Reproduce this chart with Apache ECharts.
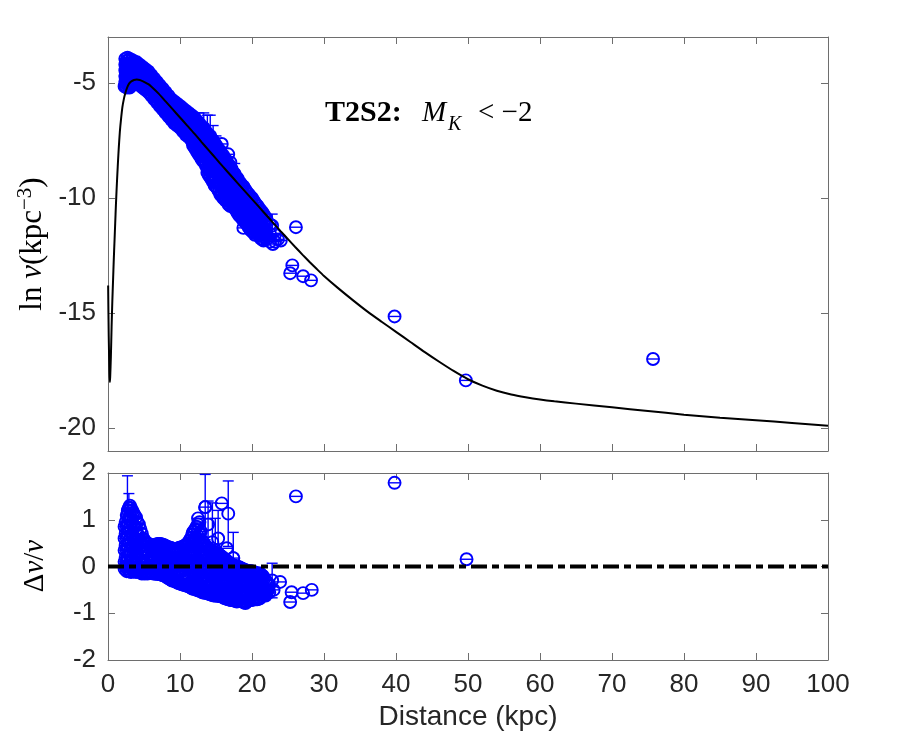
<!DOCTYPE html>
<html><head><meta charset="utf-8">
<script src="https://cdn.jsdelivr.net/npm/echarts@6/dist/echarts.min.js"></script>
<style>html,body{margin:0;padding:0;background:#fff}#c{width:900px;height:750px}</style>
</head><body><div id="c"></div>
<script>
// ---- model curve (ln nu vs distance)
const modelDist = [0.02,0.1,0.2,0.25,0.3,0.4,0.5,0.6,0.7,0.8,0.9,1.0,1.1,1.2,1.3,1.4,1.5,1.65,1.8,2.0,2.2,2.4,2.6,2.8,3.0,3.3,3.6,4.0,4.4,4.8,5.2,5.6,6,7,8,9,10,11,12,13,14,15,16,17,18,19,20,21,22,23,24,25,26,27,28,29,30,32,34,36,38,40,42,44,46,48,50,52,54,56,58,60,62,65,70,75,80,85,90,95,100];
const modelLnNu = [-13.8,-16.0,-17.6,-18.0,-17.8,-16.9,-15.6,-14.5,-13.6,-12.7,-11.9,-11.1,-10.3,-9.6,-8.95,-8.35,-7.8,-7.1,-6.6,-6.05,-5.7,-5.45,-5.25,-5.1,-5.0,-4.92,-4.87,-4.85,-4.87,-4.92,-4.98,-5.05,-5.15,-5.45,-5.8,-6.15,-6.5,-6.85,-7.2,-7.57,-7.93,-8.29,-8.65,-9.0,-9.35,-9.7,-10.05,-10.4,-10.75,-11.1,-11.45,-11.79,-12.13,-12.46,-12.78,-13.09,-13.39,-13.93,-14.44,-14.93,-15.38,-15.82,-16.26,-16.7,-17.12,-17.52,-17.88,-18.16,-18.38,-18.54,-18.66,-18.76,-18.84,-18.94,-19.1,-19.26,-19.42,-19.55,-19.66,-19.78,-19.9];

// ---- top panel: measured ln nu, grouped by distance column [distance, [ln nu ...]]
const topColumns = [
 [2.4,[-3.95,-4.2,-4.45,-4.7,-4.95,-5.1]],
 [2.55,[-4.05,-4.3,-4.55,-4.8,-5.0]],
 [2.7,[-3.9,-4.15,-4.35,-4.6,-4.85,-5.05]],
 [2.85,[-4.0,-4.25,-4.5,-4.75,-4.95,-5.15]],
 [3.0,[-3.95,-4.15,-4.4,-4.6,-4.8,-5.0,-5.2]],
 [3.15,[-4.05,-4.3,-4.5,-4.75,-4.95,-5.15]],
 [3.3,[-4.0,-4.2,-4.45,-4.65,-4.9,-5.1]],
 [3.45,[-4.1,-4.35,-4.55,-4.8,-5.0]],
 [3.6,[-4.05,-4.25,-4.5,-4.7,-4.95]],
 [3.8,[-4.15,-4.4,-4.65,-4.85,-5.05]],
 [4.0,[-4.1,-4.3,-4.55,-4.75,-5.0]],
 [4.2,[-4.25,-4.45,-4.7,-4.95]],
 [4.4,[-4.2,-4.4,-4.6,-4.85,-5.1]],
 [4.6,[-4.35,-4.55,-4.8,-5.05]],
 [4.8,[-4.3,-4.5,-4.7,-4.95,-5.2]],
 [5.0,[-4.45,-4.7,-4.95,-5.2]],
 [5.2,[-4.4,-4.6,-4.85,-5.05,-5.3]],
 [5.4,[-4.55,-4.8,-5.05,-5.25]],
 [5.6,[-4.5,-4.7,-4.95,-5.15,-5.4]],
 [5.8,[-4.7,-4.9,-5.15,-5.45]],
 [6.0,[-4.65,-4.85,-5.05,-5.3,-5.55]],
 [6.2,[-4.85,-5.05,-5.3,-5.55]],
 [6.4,[-4.8,-5.0,-5.2,-5.45,-5.7]],
 [6.6,[-5.0,-5.2,-5.45,-5.7]],
 [6.8,[-4.95,-5.15,-5.35,-5.6,-5.85]],
 [7.0,[-5.15,-5.35,-5.6,-5.85]],
 [7.2,[-5.1,-5.3,-5.5,-5.75,-6.0]],
 [7.4,[-5.3,-5.5,-5.75,-6.05]],
 [7.6,[-5.25,-5.45,-5.65,-5.9,-6.15]],
 [7.8,[-5.45,-5.65,-5.9,-6.2]],
 [8.0,[-5.4,-5.6,-5.85,-6.05,-6.3]],
 [8.2,[-5.6,-5.8,-6.05,-6.35]],
 [8.4,[-5.55,-5.75,-6.0,-6.2,-6.45]],
 [8.6,[-5.7,-5.95,-6.2,-6.5]],
 [8.8,[-5.7,-5.9,-6.1,-6.35,-6.6]],
 [9.0,[-5.85,-6.1,-6.35,-6.6]],
 [9.2,[-5.8,-6.0,-6.25,-6.5,-6.75]],
 [9.4,[-5.95,-6.2,-6.45,-6.75]],
 [9.6,[-5.9,-6.15,-6.4,-6.6,-6.85]],
 [9.8,[-6.05,-6.3,-6.55,-6.85]],
 [10.0,[-6.0,-6.25,-6.5,-6.75,-6.95]],
 [10.2,[-6.15,-6.4,-6.65,-6.95]],
 [10.4,[-6.1,-6.35,-6.6,-6.85,-7.1]],
 [10.6,[-6.25,-6.5,-6.75,-7.05]],
 [10.8,[-6.2,-6.45,-6.7,-6.95,-7.25]],
 [11.0,[-6.35,-6.6,-6.9,-7.2]],
 [11.2,[-6.3,-6.55,-6.8,-7.05,-7.35]],
 [11.4,[-6.45,-6.7,-7.0,-7.3]],
 [11.6,[-6.4,-6.65,-6.9,-7.2,-7.5]],
 [11.8,[-6.55,-6.85,-7.15,-7.45,-7.7]],
 [12.0,[-6.5,-6.75,-7.0,-7.3,-7.6,-7.8]],
 [12.2,[-6.7,-7.0,-7.3,-7.6,-7.9]],
 [12.4,[-6.65,-6.9,-7.15,-7.45,-7.75,-8.0]],
 [12.6,[-6.85,-7.15,-7.45,-7.75,-8.1]],
 [12.8,[-6.8,-7.05,-7.3,-7.6,-7.9,-8.2]],
 [13.0,[-7.0,-7.3,-7.6,-7.95,-8.3]],
 [13.2,[-6.95,-7.2,-7.5,-7.8,-8.1,-8.4]],
 [13.4,[-7.15,-7.45,-7.8,-8.1,-8.45]],
 [13.6,[-7.1,-7.35,-7.65,-7.95,-8.25,-8.6]],
 [13.8,[-7.3,-7.6,-7.95,-8.3,-8.65,-8.9]],
 [14.0,[-7.3,-7.55,-7.85,-8.15,-8.45,-8.8,-9.0]],
 [14.2,[-7.45,-7.75,-8.1,-8.45,-8.8,-9.1]],
 [14.4,[-7.45,-7.7,-8.0,-8.3,-8.6,-8.95,-9.2]],
 [14.6,[-7.6,-7.9,-8.25,-8.6,-8.95,-9.3]],
 [14.8,[-7.6,-7.9,-8.2,-8.5,-8.8,-9.1,-9.45]],
 [15.0,[-7.75,-8.05,-8.4,-8.75,-9.1,-9.5]],
 [15.2,[-7.8,-8.05,-8.35,-8.65,-8.95,-9.3,-9.6]],
 [15.4,[-7.95,-8.25,-8.6,-8.95,-9.3,-9.7]],
 [15.6,[-7.95,-8.25,-8.55,-8.85,-9.15,-9.5,-9.85]],
 [15.8,[-8.1,-8.4,-8.75,-9.1,-9.45,-9.9]],
 [16.0,[-8.15,-8.45,-8.75,-9.05,-9.35,-9.65,-10.0]],
 [16.2,[-8.3,-8.6,-8.95,-9.3,-9.65,-10.0]],
 [16.4,[-8.35,-8.65,-8.95,-9.25,-9.55,-9.85,-10.1]],
 [16.6,[-8.5,-8.8,-9.15,-9.5,-9.85,-10.2]],
 [16.8,[-8.55,-8.85,-9.15,-9.45,-9.75,-10.05,-10.3]],
 [17.0,[-8.7,-9.0,-9.35,-9.7,-10.05,-10.35]],
 [17.2,[-8.75,-9.05,-9.35,-9.65,-9.95,-10.25]],
 [17.4,[-8.9,-9.2,-9.5,-9.8,-10.1,-10.4]],
 [17.6,[-8.95,-9.25,-9.55,-9.85,-10.15,-10.45]],
 [17.8,[-9.1,-9.4,-9.7,-10.0,-10.3,-10.55]],
 [18.0,[-9.15,-9.45,-9.75,-10.05,-10.35,-10.65]],
 [18.2,[-9.3,-9.6,-9.9,-10.2,-10.5,-10.75]],
 [18.4,[-9.35,-9.65,-9.95,-10.25,-10.55,-10.8]],
 [18.6,[-9.45,-9.75,-10.05,-10.35,-10.65,-10.9]],
 [18.8,[-9.5,-9.8,-10.1,-10.4,-10.7,-10.95]],
 [19.0,[-9.6,-9.9,-10.2,-10.5,-10.8,-11.05]],
 [19.2,[-9.7,-10.0,-10.3,-10.6,-10.9,-11.1]],
 [19.4,[-9.8,-10.1,-10.4,-10.7,-11.0,-11.2]],
 [19.6,[-9.85,-10.15,-10.45,-10.75,-11.05,-11.3]],
 [19.8,[-9.95,-10.25,-10.55,-10.85,-11.15,-11.4]],
 [20.0,[-10.0,-10.3,-10.6,-10.9,-11.2,-11.45]],
 [20.2,[-10.1,-10.4,-10.7,-11.0,-11.3,-11.5]],
 [20.4,[-10.2,-10.5,-10.8,-11.1,-11.4,-11.6]],
 [20.6,[-10.3,-10.6,-10.9,-11.2,-11.5]],
 [20.8,[-10.35,-10.65,-10.95,-11.25,-11.55]],
 [21.0,[-10.45,-10.75,-11.05,-11.35,-11.65]],
 [21.2,[-10.55,-10.85,-11.15,-11.45,-11.75]],
 [21.4,[-10.6,-10.9,-11.2,-11.5,-11.8]],
 [21.6,[-10.7,-11.0,-11.3,-11.6,-11.85]],
 [21.8,[-10.8,-11.1,-11.4,-11.7]],
 [22.0,[-10.9,-11.2,-11.5,-11.8]],
 [22.5,[-11.15,-11.55,-11.9]],
 [23.2,[-11.6,-11.9]],
 [24.0,[-11.85]]
];
const topExtra = [[2.3,-5.15],[2.6,-5.2],[15.8,-7.65],[16.7,-8.1],[16.2,-8.3],[17.0,-8.45],[16.3,-10.1],[18.8,-11.3],[21.1,-11.4],[22.9,-12.0],[23.6,-11.8],
 [26.1,-11.27],[25.6,-12.93],[25.3,-13.27],[27.1,-13.4],[28.2,-13.58],[39.8,-15.15],[49.7,-17.93],[75.7,-17.0]];
// [distance, ln nu, error]
const topErrors = [[12.6,-6.8,0.5],[13.3,-6.95,0.65],[13.8,-7.2,0.8],[14.2,-7.3,0.9],[14.6,-7.5,0.65],[15.0,-7.7,0.4],[17.6,-9.0,0.5],[20.2,-10.5,0.4],[22.8,-11.2,0.5]];

// ---- bottom panel: residual Δν/ν by distance column
const bottomColumns = [
 [2.3,[0.85,0.6,0.35,0.1,-0.05]],
 [2.45,[0.95,0.7,0.45,0.2,0.0]],
 [2.6,[1.1,0.85,0.6,0.35,0.1,-0.1]],
 [2.75,[1.2,0.95,0.7,0.45,0.2,-0.05]],
 [2.9,[1.25,1.0,0.75,0.5,0.25,0.0,-0.1]],
 [3.05,[1.3,1.1,0.85,0.6,0.35,0.1,-0.1]],
 [3.2,[1.25,1.0,0.75,0.5,0.25,0.0,-0.12]],
 [3.35,[1.2,0.95,0.7,0.45,0.2,-0.05]],
 [3.5,[1.15,0.9,0.65,0.4,0.15,-0.1]],
 [3.7,[1.1,0.85,0.6,0.35,0.1,-0.1]],
 [3.9,[1.05,0.8,0.55,0.3,0.05,-0.12]],
 [4.1,[0.95,0.7,0.45,0.2,-0.05]],
 [4.3,[0.9,0.65,0.4,0.15,-0.1]],
 [4.5,[0.8,0.55,0.3,0.05,-0.12]],
 [4.7,[0.7,0.45,0.2,-0.05,-0.15]],
 [4.9,[0.6,0.35,0.1,-0.1]],
 [5.1,[0.55,0.3,0.05,-0.15]],
 [5.3,[0.5,0.3,0.05,-0.12]],
 [5.5,[0.5,0.25,0.0,-0.15]],
 [5.7,[0.47,0.25,0.02,-0.14]],
 [5.9,[0.45,0.2,-0.05,-0.13]],
 [6.1,[0.45,0.22,0.0,-0.14]],
 [6.3,[0.45,0.22,0.0,-0.15]],
 [6.5,[0.46,0.23,0.0,-0.15]],
 [6.7,[0.47,0.25,0.02,-0.15]],
 [6.9,[0.48,0.25,0.02,-0.16]],
 [7.1,[0.48,0.25,0.0,-0.15]],
 [7.3,[0.48,0.25,0.02,-0.17]],
 [7.5,[0.47,0.24,0.0,-0.18]],
 [7.7,[0.46,0.23,0.0,-0.19]],
 [7.9,[0.45,0.22,-0.02,-0.2]],
 [8.1,[0.43,0.2,-0.03,-0.22]],
 [8.3,[0.42,0.2,-0.05,-0.24]],
 [8.5,[0.4,0.17,-0.06,-0.26]],
 [8.7,[0.4,0.15,-0.08,-0.28]],
 [8.9,[0.38,0.15,-0.08,-0.3]],
 [9.1,[0.38,0.15,-0.1,-0.3]],
 [9.3,[0.37,0.14,-0.1,-0.32]],
 [9.5,[0.38,0.15,-0.1,-0.33]],
 [9.7,[0.38,0.15,-0.1,-0.35]],
 [9.9,[0.4,0.15,-0.1,-0.36]],
 [10.1,[0.4,0.17,-0.1,-0.37]],
 [10.3,[0.42,0.18,-0.08,-0.38]],
 [10.5,[0.43,0.2,-0.05,-0.3,-0.39]],
 [10.7,[0.45,0.2,-0.05,-0.3,-0.4]],
 [10.9,[0.47,0.22,-0.02,-0.27,-0.41]],
 [11.1,[0.5,0.25,0.0,-0.25,-0.42]],
 [11.3,[0.55,0.3,0.05,-0.2,-0.43]],
 [11.5,[0.6,0.35,0.1,-0.15,-0.4,-0.45]],
 [11.7,[0.68,0.43,0.18,-0.07,-0.32,-0.47]],
 [11.9,[0.75,0.5,0.25,0.0,-0.25,-0.48]],
 [12.1,[0.8,0.55,0.3,0.05,-0.2,-0.45]],
 [12.3,[0.85,0.6,0.35,0.1,-0.15,-0.4,-0.5]],
 [12.5,[0.9,0.65,0.4,0.15,-0.1,-0.35,-0.51]],
 [12.7,[0.95,0.7,0.45,0.2,-0.05,-0.3,-0.52]],
 [12.9,[0.75,0.5,0.25,0.0,-0.25,-0.5]],
 [13.1,[0.55,0.3,0.05,-0.2,-0.45,-0.55]],
 [13.3,[0.5,0.25,0.0,-0.25,-0.5,-0.56]],
 [13.5,[0.45,0.2,-0.05,-0.3,-0.55]],
 [13.7,[0.42,0.17,-0.08,-0.33,-0.57]],
 [13.9,[0.4,0.15,-0.1,-0.35,-0.58]],
 [14.1,[0.37,0.12,-0.13,-0.38,-0.59]],
 [14.3,[0.35,0.1,-0.15,-0.4,-0.6]],
 [14.5,[0.32,0.07,-0.18,-0.43,-0.61]],
 [14.7,[0.3,0.05,-0.2,-0.45,-0.62]],
 [14.9,[0.3,0.05,-0.2,-0.45,-0.62]],
 [15.1,[0.28,0.05,-0.2,-0.45,-0.62]],
 [15.3,[0.27,0.02,-0.23,-0.48,-0.63]],
 [15.5,[0.25,0.0,-0.25,-0.5,-0.63]],
 [15.7,[0.22,-0.03,-0.28,-0.53,-0.64]],
 [15.9,[0.2,-0.05,-0.3,-0.55,-0.65]],
 [16.1,[0.17,-0.08,-0.33,-0.58,-0.67]],
 [16.3,[0.15,-0.1,-0.35,-0.6,-0.68]],
 [16.5,[0.12,-0.11,-0.35,-0.6,-0.69]],
 [16.7,[0.1,-0.12,-0.35,-0.58,-0.7]],
 [16.9,[0.07,-0.14,-0.38,-0.6,-0.71]],
 [17.1,[0.05,-0.15,-0.4,-0.62,-0.72]],
 [17.3,[0.03,-0.18,-0.41,-0.64,-0.72]],
 [17.5,[0.02,-0.2,-0.42,-0.65,-0.72]],
 [17.7,[0.01,-0.21,-0.44,-0.67,-0.74]],
 [17.9,[0.0,-0.22,-0.45,-0.68,-0.75]],
 [18.1,[-0.01,-0.24,-0.48,-0.7]],
 [18.3,[-0.02,-0.25,-0.5,-0.72]],
 [18.5,[-0.04,-0.27,-0.51,-0.74]],
 [18.7,[-0.05,-0.28,-0.52,-0.75]],
 [18.9,[-0.07,-0.29,-0.54,-0.77]],
 [19.1,[-0.08,-0.3,-0.55,-0.78]],
 [19.3,[-0.09,-0.31,-0.55,-0.75]],
 [19.5,[-0.1,-0.32,-0.55,-0.72]],
 [19.7,[-0.1,-0.32,-0.55,-0.72]],
 [19.9,[-0.1,-0.32,-0.55,-0.72]],
 [20.1,[-0.11,-0.34,-0.55,-0.71]],
 [20.3,[-0.12,-0.35,-0.55,-0.7]],
 [20.5,[-0.14,-0.35,-0.55,-0.7]],
 [20.7,[-0.15,-0.35,-0.55,-0.7]],
 [20.9,[-0.15,-0.37,-0.57,-0.69]],
 [21.1,[-0.15,-0.38,-0.58,-0.68]],
 [21.3,[-0.18,-0.39,-0.59]],
 [21.5,[-0.2,-0.4,-0.6]],
 [21.7,[-0.25,-0.45,-0.61]],
 [21.9,[-0.3,-0.5,-0.62]],
 [22.2,[-0.35,-0.52]],
 [22.4,[-0.4,-0.55]],
 [23.0,[-0.5]]
];
const bottomExtra = [[11.8,0.73],[12.5,1.03],[13.5,1.27],[15.8,1.35],[16.5,0.39],[17.4,0.18],
 [23.9,-0.33],[25.5,-0.55],[25.3,-0.76],[27.1,-0.57],[28.3,-0.5],[26.1,1.5],[39.8,1.79],[49.8,0.155]];
const bottomErrors = [[2.7,1.1,0.84],[2.9,1.25,0.31],[3.4,0.05,0.2],[13.5,1.27,0.7],[14.5,0.52,0.84],[14.9,0.35,0.68],[16.7,1.13,0.7],[17.4,0.18,0.55],[13.9,0.9,0.5],[15.3,0.6,0.6],[22.8,-0.3,0.37]];

// tick values
const xTicks = [0,10,20,30,40,50,60,70,80,90,100];
const topYTicks = [-20,-15,-10,-5];
const bottomYTicks = [-2,-1,0,1,2];

function expand(cols){ const out=[]; cols.forEach(c=>c[1].forEach(v=>out.push([c[0],v,0]))); return out; }
const topData = expand(topColumns).concat(topExtra.map(p=>[p[0],p[1],0])).concat(topErrors);
const bottomData = expand(bottomColumns).concat(bottomExtra.map(p=>[p[0],p[1],0])).concat(bottomErrors);

const BLUE = '#0000ff';
function renderPt(params, api){
  const x=api.value(0), y=api.value(1), e=api.value(2);
  const c=api.coord([x,y]);
  const cap=5.5, kids=[];
  const st={stroke:BLUE, lineWidth:1.4, fill:null};
  if(e>0){
    const t=api.coord([x,y+e]), b=api.coord([x,y-e]);
    kids.push({type:'line',shape:{x1:c[0],y1:t[1],x2:c[0],y2:b[1]},style:st});
    kids.push({type:'line',shape:{x1:c[0]-cap,y1:t[1],x2:c[0]+cap,y2:t[1]},style:st});
    kids.push({type:'line',shape:{x1:c[0]-cap,y1:b[1],x2:c[0]+cap,y2:b[1]},style:st});
  } else {
    kids.push({type:'line',shape:{x1:c[0]-cap,y1:c[1],x2:c[0]+cap,y2:c[1]},style:st});
  }
  kids.push({type:'circle',shape:{cx:c[0],cy:c[1],r:6},style:{stroke:BLUE,lineWidth:1.9,fill:null}});
  return {type:'group',children:kids};
}

const AX='#6e6e6e', TXT='#262626', SANS='"Liberation Sans", Arial, sans-serif', SERIF='"Liberation Serif", "DejaVu Serif", serif';
function xa(grid, pos, labels){
  return {type:'value', gridIndex:grid, position:pos, min:xTicks[0], max:xTicks[xTicks.length-1], interval:10,
    axisLine:{show:true,onZero:false,lineStyle:{color:AX,width:1}},
    axisTick:{show:true,inside:true,length:7,lineStyle:{color:AX}},
    splitLine:{show:false},
    axisLabel:{show:labels,color:TXT,fontSize:26,fontFamily:SANS,margin:12},
    name: labels?'Distance (kpc)':'', nameLocation:'middle', nameGap:43,
    nameTextStyle:{color:TXT,fontSize:28,fontFamily:SANS}};
}
function ya(grid, pos, labels, min, max, ticks){
  return {type:'value', gridIndex:grid, position:pos, min:min, max:max,
    axisLine:{show:true,onZero:false,lineStyle:{color:AX,width:1}},
    axisTick:{show:true,inside:true,length:7,lineStyle:{color:AX},customValues:ticks},
    splitLine:{show:false},
    axisLabel:{show:labels,color:TXT,fontSize:26,fontFamily:SANS,margin:12,customValues:ticks}};
}

const chart = echarts.init(document.getElementById('c'), null, {renderer:'canvas'});
chart.setOption({
  backgroundColor:'#fff',
  animation:false,
  grid:[{left:108,top:37,width:720,height:414},{left:108,top:473,width:720,height:187}],
  xAxis:[xa(0,'bottom',false), xa(0,'top',false), xa(1,'bottom',true), xa(1,'top',false)],
  yAxis:[ya(0,'left',true,-21,-3,topYTicks), ya(0,'right',false,-21,-3,topYTicks),
         ya(1,'left',true,-2,2,bottomYTicks), ya(1,'right',false,-2,2,bottomYTicks)],
  series:[
    {type:'custom', xAxisIndex:0, yAxisIndex:0, clip:true, renderItem:renderPt, data:topData, encode:{x:0,y:1}, z:2},
    {type:'line', xAxisIndex:0, yAxisIndex:0, data:modelDist.map((d,i)=>[d,modelLnNu[i]]), showSymbol:false, symbol:'none',
      smooth:0.25, lineStyle:{color:'#000',width:2}, z:5, clip:true},
    {type:'custom', xAxisIndex:2, yAxisIndex:2, clip:true, renderItem:renderPt, data:bottomData, encode:{x:0,y:1}, z:2},
    {type:'line', xAxisIndex:2, yAxisIndex:2, data:[[0,0],[100,0]], showSymbol:false, symbol:'none',
      lineStyle:{color:'#000',width:4,type:[16,5,7,5]}, z:5}
  ],
  graphic:[
    {type:'text', x:325, y:113, style:{text:'T2S2:', font:'bold 30px '+SERIF, fill:'#000', verticalAlign:'middle'}},
    {type:'text', x:422, y:113, style:{text:'M', font:'italic 29px '+SERIF, fill:'#000', verticalAlign:'middle'}},
    {type:'text', x:448, y:125, style:{text:'K', font:'italic 20px '+SERIF, fill:'#000', verticalAlign:'middle'}},
    {type:'text', x:478, y:113, style:{text:'< \u22122', font:'29px '+SERIF, fill:'#000', verticalAlign:'middle'}},
    {type:'text', x:33, y:244, rotation:Math.PI/2,
      style:{text:'{n|ln }{i|\u03bd}{n|(kpc}{s|\u22123}{n|)}', align:'center', verticalAlign:'middle',
        rich:{n:{fontSize:31,fontFamily:SERIF,fill:'#000',lineHeight:36},
              i:{fontSize:31,fontFamily:SERIF,fontStyle:'italic',fill:'#000',lineHeight:36},
              s:{fontSize:21,fontFamily:SERIF,fill:'#000',verticalAlign:'top',lineHeight:36}}}},
    {type:'text', x:35, y:566, rotation:Math.PI/2,
      style:{text:'{n|\u0394}{i|\u03bd}{n|/}{i|\u03bd}', align:'center', verticalAlign:'middle',
        rich:{n:{fontSize:29,fontFamily:SERIF,fill:'#000'},
              i:{fontSize:29,fontFamily:SERIF,fontStyle:'italic',fill:'#000'}}}}
  ]
});
</script></body></html>
